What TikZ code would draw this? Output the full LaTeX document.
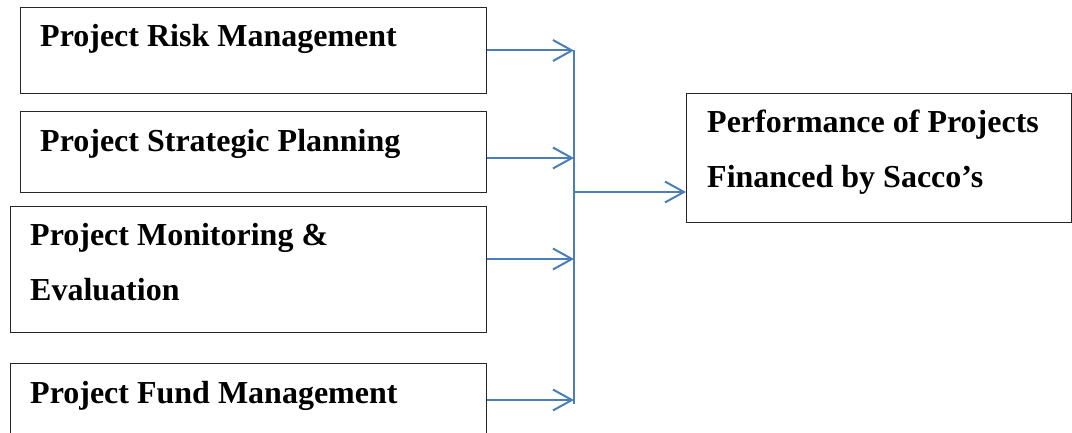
\documentclass[tikz,border=0pt]{standalone}
\usepackage{fontspec}
\setmainfont{Liberation Serif}
\usetikzlibrary{arrows.meta}
\definecolor{linkblue}{RGB}{74,126,187}
\tikzset{
  box/.style={draw=black!85, line width=1.2pt, rectangle, anchor=north west, inner sep=0pt},
  lbl/.style={anchor=base west, inner sep=0pt, font=\fontsize{32pt}{38pt}\selectfont\bfseries},
  link/.style={draw=linkblue, line width=2pt},
  arr/.style={link, -{Straight Barb[length=19pt,width=21pt,line width=2pt]}}
}
\begin{document}
\begin{tikzpicture}[x=1pt,y=-1pt]
\useasboundingbox (0,0) rectangle (1072,433);
\clip (0,0) rectangle (1072,433);
% boxes
\node[box, minimum width=466pt, minimum height=86pt] (b1) at (20,7) {};
\node[box, minimum width=466pt, minimum height=81pt] (b2) at (20,111) {};
\node[box, minimum width=476pt, minimum height=126pt] (b3) at (10,206) {};
\node[box, minimum width=476pt, minimum height=90pt] (b4) at (10,363) {};
\node[box, minimum width=385pt, minimum height=129pt] (r) at (686,93) {};
% texts
\node[lbl] (t1) at (40,47) {Project Risk Management};
\node[lbl] (t2) at (40,152) {Project Strategic Planning};
\node[lbl] (t3a) at (30,245) {Project Monitoring \&};
\node[lbl] (t3b) at (30,300) {Evaluation};
\node[lbl] (t4) at (30,403) {Project Fund Management};
\node[lbl] (tra) at (707,133) {Performance of Projects};
\node[lbl] (trb) at (707,188) {Financed by Sacco’s};
% junction points on the collector line
\coordinate (j1) at (574,50.5);
\coordinate (j2) at (574,158);
\coordinate (j3) at (574,259);
\coordinate (j4) at (574,400);
\coordinate (jend) at (574,404);
\coordinate (jout) at (574,192);
% connectors
\draw[link] (j1) -- (jend);
\draw[arr] (b1.east |- j1) -- (j1);
\draw[arr] (b2.east |- j2) -- (j2);
\draw[arr] (b3.east |- j3) -- (j3);
\draw[arr] (b4.east |- j4) -- (j4);
\draw[arr] (jout) -- (r.west |- jout);
\end{tikzpicture}
\end{document}
